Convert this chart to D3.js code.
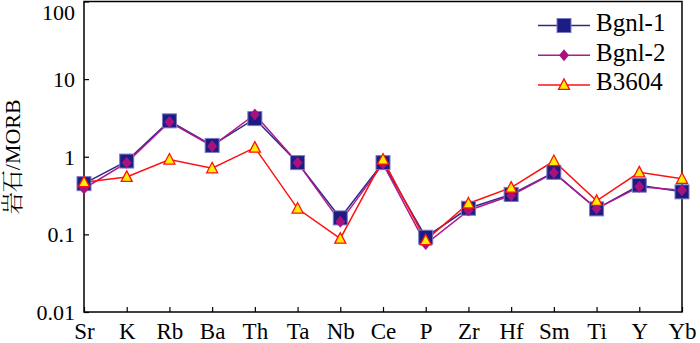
<!DOCTYPE html>
<html>
<head>
<meta charset="utf-8">
<script src="https://cdn.jsdelivr.net/npm/d3@7"></script>
<style>
  body { margin: 0; background: #fff; }
  svg { display: block; }
</style>
</head>
<body>
<svg width="700" height="343"></svg>
<script>
const elements = ['Sr', 'K', 'Rb', 'Ba', 'Th', 'Ta', 'Nb', 'Ce', 'P', 'Zr', 'Hf', 'Sm', 'Ti', 'Y', 'Yb'];
const bgnl1 = [0.45, 0.88, 2.9, 1.4, 3.1, 0.84, 0.163, 0.84, 0.092, 0.217, 0.327, 0.63, 0.213, 0.43, 0.353];
const bgnl2 = [0.39, 0.84, 2.8, 1.37, 3.5, 0.84, 0.145, 0.81, 0.075, 0.203, 0.317, 0.62, 0.215, 0.41, 0.37];
const b3604 = [0.47, 0.55, 0.92, 0.71, 1.31, 0.215, 0.088, 0.92, 0.084, 0.25, 0.40, 0.88, 0.27, 0.63, 0.52];
const yTicks = [0.01, 0.1, 1, 10, 100];
const yTickLabels = ['0.01', '0.1', '1', '10', '100'];

const series = [
  { name: 'Bgnl-1', values: bgnl1, line: '#2a2a8c', type: 'square' },
  { name: 'Bgnl-2', values: bgnl2, line: '#b0188c', type: 'diamond' },
  { name: 'B3604', values: b3604, line: '#ff1010', type: 'triangle' }
];

const serif = "'Liberation Serif'";
const svg = d3.select('svg');
const margin = { left: 84, right: 18, top: 1.5, bottom: 31 };
const width = 700, height = 343;

const x = d3.scalePoint()
  .domain(elements)
  .range([margin.left, width - margin.right]);

const y = d3.scaleLog()
  .domain([0.01, 100])
  .range([height - margin.bottom, margin.top]);

// frame
svg.append('rect')
  .attr('x', margin.left)
  .attr('y', margin.top)
  .attr('width', width - margin.right - margin.left)
  .attr('height', height - margin.bottom - margin.top)
  .attr('fill', 'none')
  .attr('stroke', '#000')
  .attr('stroke-width', 1.5);

// x axis, ticks pointing inward
const xAxis = svg.append('g')
  .attr('transform', 'translate(0,' + (height - margin.bottom) + ')')
  .call(d3.axisBottom(x).tickSizeInner(-5).tickSizeOuter(0))
  .attr('font-family', serif);
xAxis.select('.domain').remove();
xAxis.selectAll('line').attr('stroke', '#000').attr('stroke-width', 1.2);
xAxis.selectAll('text')
  .attr('font-family', serif)
  .attr('font-size', 23)
  .attr('fill', '#000')
  .attr('y', 27)
  .attr('dy', 0);

// y axis
const yAxis = svg.append('g')
  .attr('transform', 'translate(' + margin.left + ',0)')
  .call(d3.axisLeft(y).tickValues(yTicks)
    .tickFormat(function (d, i) { return yTickLabels[i]; })
    .tickSizeInner(-5).tickSizeOuter(0).tickPadding(9))
  .attr('font-family', serif);
yAxis.select('.domain').remove();
yAxis.selectAll('line').attr('stroke', '#000').attr('stroke-width', 1.2);
yAxis.selectAll('text')
  .attr('font-family', serif)
  .attr('font-size', 22)
  .attr('fill', '#000')
  .attr('dy', function (d) { return d === 100 ? 17.5 : 7.4; });

// y title
svg.append('text')
  .attr('transform', 'translate(20,' + y(1) + ') rotate(-90)')
  .attr('text-anchor', 'middle')
  .attr('font-family', "'Liberation Serif', 'Noto Serif CJK SC'")
  .attr('font-size', 22)
  .text('岩石/MORB');

function drawMarker(g, type) {
  if (type === 'square') {
    g.append('rect')
      .attr('x', -7).attr('y', -7).attr('width', 14).attr('height', 14)
      .attr('fill', '#1c1c84')
      .attr('stroke', '#7b7bc4')
      .attr('stroke-width', 1);
  } else if (type === 'diamond') {
    g.append('path')
      .attr('d', 'M0,-6L5,0L0,6L-5,0Z')
      .attr('fill', '#a8127f');
  } else {
    g.append('path')
      .attr('d', 'M0,-6L5.5,4.5L-5.5,4.5Z')
      .attr('fill', '#ffee00')
      .attr('stroke', '#ff1010')
      .attr('stroke-width', 1.3);
  }
}

const line = d3.line()
  .x(function (d, i) { return x(elements[i]); })
  .y(function (d) { return y(d); });

series.forEach(function (s) {
  svg.append('path')
    .datum(s.values)
    .attr('fill', 'none')
    .attr('stroke', s.line)
    .attr('stroke-width', 1.5)
    .attr('d', line);
});

series.forEach(function (s) {
  s.values.forEach(function (v, i) {
    const g = svg.append('g')
      .attr('transform', 'translate(' + x(elements[i]) + ',' + y(v) + ')');
    drawMarker(g, s.type);
  });
});

// legend
const legend = svg.append('g');
series.forEach(function (s, i) {
  const ly = 25.5 + i * 29.7;
  legend.append('line')
    .attr('x1', 538).attr('x2', 590)
    .attr('y1', ly).attr('y2', ly)
    .attr('stroke', s.line)
    .attr('stroke-width', 1.5);
  const g = legend.append('g').attr('transform', 'translate(564,' + ly + ')');
  drawMarker(g, s.type);
  legend.append('text')
    .attr('x', 596)
    .attr('y', ly + 5.5)
    .attr('font-family', serif)
    .attr('font-size', 25)
    .text(s.name);
});
</script>
</body>
</html>
